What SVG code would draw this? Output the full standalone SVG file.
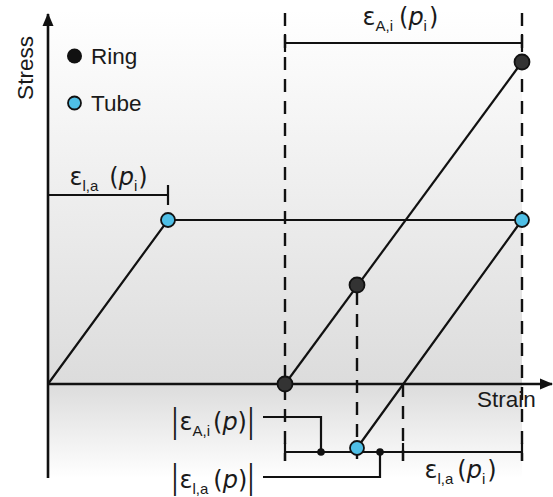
<svg xmlns="http://www.w3.org/2000/svg" width="553" height="497" viewBox="0 0 553 497">
<defs>
<linearGradient id="bg" x1="0" y1="10" x2="0" y2="478" gradientUnits="userSpaceOnUse">
<stop offset="0" stop-color="#ffffff"/>
<stop offset="0.8" stop-color="#dcdcdc"/>
<stop offset="1" stop-color="#ffffff"/>
</linearGradient>
<marker id="arr" markerWidth="13" markerHeight="12" refX="12" refY="6" orient="auto" markerUnits="userSpaceOnUse">
<path d="M0,0.5 L13,6 L0,11.5 Z" fill="#111"/>
</marker>
</defs>
<style>
text{font-family:"Liberation Sans",Arial,sans-serif;fill:#1a1a1a}
.lbl{font-size:22.5px}
.m{font-family:"DejaVu Sans",sans-serif;font-size:24px}
.sub{font-family:"Liberation Sans",Arial,sans-serif;font-size:15px}
.it{font-style:italic}
.axis{stroke:#111;stroke-width:2.6;fill:none}
.curve{stroke:#111;stroke-width:2.2;fill:none}
.dash{stroke:#111;stroke-width:2.4;stroke-dasharray:13 9;fill:none}
.brk{stroke:#111;stroke-width:2.2;fill:none}
.ring{fill:#333;stroke:#111;stroke-width:1.8}
.tube{fill:#4fbfe6;stroke:#111;stroke-width:1.8}
.dot{fill:#111}
</style>
<rect x="48" y="10" width="474" height="468" fill="url(#bg)"/>
<g id="connectors">
<line class="axis" x1="48" y1="478" x2="48" y2="14" marker-end="url(#arr)"/>
<line class="axis" x1="48" y1="384" x2="552" y2="384" marker-end="url(#arr)"/>
<line class="dash" x1="285" y1="13" x2="285" y2="461"/>
<line class="dash" x1="522" y1="13" x2="522" y2="461"/>
<line class="dash" x1="357" y1="292" x2="357" y2="461"/>
<line class="dash" x1="403" y1="384" x2="403" y2="461"/>
<polyline class="curve" points="48,384 168,220 522,220 357,448"/>
<line class="curve" x1="285" y1="384" x2="522" y2="62"/>
<line class="brk" x1="48" y1="195" x2="168" y2="195"/>
<line class="brk" x1="168" y1="185" x2="168" y2="205"/>
<line class="brk" x1="285" y1="43" x2="522" y2="43"/>
<line class="brk" x1="285" y1="34" x2="285" y2="52"/>
<line class="brk" x1="522" y1="34" x2="522" y2="52"/>
<line class="brk" x1="285" y1="452" x2="522" y2="452"/>
<line class="brk" x1="285" y1="443" x2="285" y2="461"/>
<line class="brk" x1="403" y1="443" x2="403" y2="461"/>
<line class="brk" x1="522" y1="443" x2="522" y2="461"/>
<polyline class="brk" points="263,417 321,417 321,452"/>
<polyline class="brk" points="263,477 380,477 380,452"/>
<circle class="dot" cx="321" cy="452" r="3.8"/>
<circle class="dot" cx="380" cy="452" r="3.8"/>
</g>
<g id="ring-points">
<circle class="ring" cx="522" cy="62" r="7.5"/>
<circle class="ring" cx="357" cy="285" r="7.5"/>
<circle class="ring" cx="285" cy="384" r="7.5"/>
</g>
<g id="tube-points">
<circle class="tube" cx="168" cy="220" r="7"/>
<circle class="tube" cx="522" cy="220" r="7"/>
<circle class="tube" cx="357" cy="448" r="7"/>
</g>
<g id="legend">
<circle cx="74.5" cy="56" r="7.5" fill="#111"/>
<text class="lbl" x="91" y="64">Ring</text>
<circle class="tube" cx="74.5" cy="103" r="6.5"/>
<text class="lbl" x="91" y="111">Tube</text>
</g>
<g id="axis-labels">
<text class="lbl" text-anchor="middle" transform="translate(33,68) rotate(-90)">Stress</text>
<text class="lbl" x="477" y="407">Strain</text>
</g>
<g id="label-eps-la-pi-left">
<text class="m" x="69.5" y="185">ε<tspan class="sub" dy="6">l,a</tspan><tspan dx="11" dy="-6">(</tspan><tspan class="it">p</tspan><tspan class="sub" dy="6">i</tspan><tspan dx="1" dy="-6">)</tspan></text>
</g>
<g id="label-eps-ai-pi">
<text class="m" x="362.5" y="25">ε<tspan class="sub" dy="6">A,i</tspan><tspan dx="6" dy="-6">(</tspan><tspan class="it">p</tspan><tspan class="sub" dy="6">i</tspan><tspan dx="2" dy="-6">)</tspan></text>
</g>
<g id="label-eps-la-pi-bottom">
<text class="m" x="424.5" y="478">ε<tspan class="sub" dy="6">l,a</tspan><tspan dx="4" dy="-6">(</tspan><tspan class="it">p</tspan><tspan class="sub" dy="6">i</tspan><tspan dx="2" dy="-6">)</tspan></text>
</g>
<g id="label-abs-eps-ai-p">
<text class="lbl" transform="translate(172,433) scale(1,1.55)">|</text>
<text class="m" x="179.5" y="430">ε<tspan class="sub" dy="6">A,i</tspan><tspan dx="3" dy="-6">(</tspan><tspan class="it">p</tspan><tspan>)</tspan></text>
<text class="lbl" transform="translate(248,433) scale(1,1.55)">|</text>
</g>
<g id="label-abs-eps-la-p">
<text class="lbl" transform="translate(172,489) scale(1,1.55)">|</text>
<text class="m" x="179.5" y="488">ε<tspan class="sub" dy="6">l,a</tspan><tspan dx="5" dy="-6">(</tspan><tspan class="it">p</tspan><tspan>)</tspan></text>
<text class="lbl" transform="translate(248,489) scale(1,1.55)">|</text>
</g>
</svg>
